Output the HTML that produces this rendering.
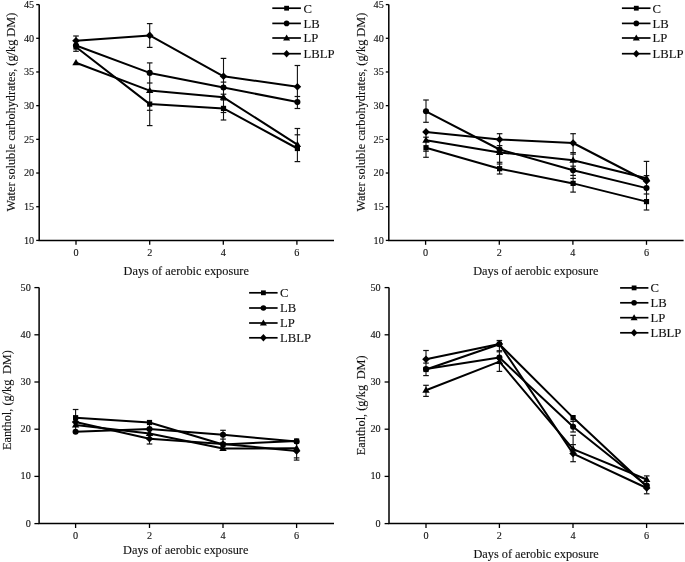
<!DOCTYPE html>
<html><head><meta charset="utf-8"><style>
html,body{margin:0;padding:0;background:#fff;}
body{width:685px;height:562px;overflow:hidden;}
svg{display:block;font-family:"Liberation Serif", serif;}
text{fill:#111;stroke:#111;stroke-width:0.12px;}
svg{filter:blur(0.35px);}
</style></head><body>
<svg width="685" height="562" viewBox="0 0 685 562">
<path d="M39.2 4.6V240.4H334" fill="none" stroke="#000" stroke-width="1.5"/>
<path d="M36.2 240.4H39.2" stroke="#000" stroke-width="1.3"/>
<text x="34.2" y="243.8" text-anchor="end" font-size="10.2">10</text>
<path d="M36.2 206.72H39.2" stroke="#000" stroke-width="1.3"/>
<text x="34.2" y="210.12" text-anchor="end" font-size="10.2">15</text>
<path d="M36.2 173.03H39.2" stroke="#000" stroke-width="1.3"/>
<text x="34.2" y="176.43" text-anchor="end" font-size="10.2">20</text>
<path d="M36.2 139.34H39.2" stroke="#000" stroke-width="1.3"/>
<text x="34.2" y="142.75" text-anchor="end" font-size="10.2">25</text>
<path d="M36.2 105.66H39.2" stroke="#000" stroke-width="1.3"/>
<text x="34.2" y="109.06" text-anchor="end" font-size="10.2">30</text>
<path d="M36.2 71.97H39.2" stroke="#000" stroke-width="1.3"/>
<text x="34.2" y="75.38" text-anchor="end" font-size="10.2">35</text>
<path d="M36.2 38.29H39.2" stroke="#000" stroke-width="1.3"/>
<text x="34.2" y="41.69" text-anchor="end" font-size="10.2">40</text>
<path d="M36.2 4.6H39.2" stroke="#000" stroke-width="1.3"/>
<text x="34.2" y="8" text-anchor="end" font-size="10.2">45</text>
<path d="M76 240.4V244.8" stroke="#000" stroke-width="1.3"/>
<text x="76" y="256.2" text-anchor="middle" font-size="10.2">0</text>
<path d="M149.7 240.4V244.8" stroke="#000" stroke-width="1.3"/>
<text x="149.7" y="256.2" text-anchor="middle" font-size="10.2">2</text>
<path d="M223.3 240.4V244.8" stroke="#000" stroke-width="1.3"/>
<text x="223.3" y="256.2" text-anchor="middle" font-size="10.2">4</text>
<path d="M296.9 240.4V244.8" stroke="#000" stroke-width="1.3"/>
<text x="296.9" y="256.2" text-anchor="middle" font-size="10.2">6</text>
<text x="123.6" y="275.2" font-size="12.3">Days of aerobic exposure</text>
<text transform="translate(15.2 211.5) rotate(-90)" font-size="12.3">Water soluble carbohydrates, (g/kg DM)</text>
<path d="M76 36V51.3" stroke="#111" stroke-width="1.1"/>
<path d="M73.2 36H78.8" stroke="#111" stroke-width="1.2"/>
<path d="M73.2 51.3H78.8" stroke="#111" stroke-width="1.2"/>
<path d="M149.7 23.6V47.4" stroke="#111" stroke-width="1.1"/>
<path d="M149.7 62.9V125.6" stroke="#111" stroke-width="1.1"/>
<path d="M146.9 23.6H152.5" stroke="#111" stroke-width="1.2"/>
<path d="M146.9 47.4H152.5" stroke="#111" stroke-width="1.2"/>
<path d="M146.9 62.9H152.5" stroke="#111" stroke-width="1.2"/>
<path d="M146.9 83H152.5" stroke="#111" stroke-width="1.2"/>
<path d="M146.9 110.3H152.5" stroke="#111" stroke-width="1.2"/>
<path d="M146.9 125.6H152.5" stroke="#111" stroke-width="1.2"/>
<path d="M223.5 58.4V120" stroke="#111" stroke-width="1.1"/>
<path d="M220.7 58.4H226.3" stroke="#111" stroke-width="1.2"/>
<path d="M220.7 82.1H226.3" stroke="#111" stroke-width="1.2"/>
<path d="M220.7 94.2H226.3" stroke="#111" stroke-width="1.2"/>
<path d="M220.7 100H226.3" stroke="#111" stroke-width="1.2"/>
<path d="M220.7 112.5H226.3" stroke="#111" stroke-width="1.2"/>
<path d="M220.7 120H226.3" stroke="#111" stroke-width="1.2"/>
<path d="M297.4 65.5V108.5" stroke="#111" stroke-width="1.1"/>
<path d="M297.4 128.5V162" stroke="#111" stroke-width="1.1"/>
<path d="M294.6 65.5H300.2" stroke="#111" stroke-width="1.2"/>
<path d="M294.6 96.5H300.2" stroke="#111" stroke-width="1.2"/>
<path d="M294.6 108.5H300.2" stroke="#111" stroke-width="1.2"/>
<path d="M294.6 128.5H300.2" stroke="#111" stroke-width="1.2"/>
<path d="M294.6 134.8H300.2" stroke="#111" stroke-width="1.2"/>
<path d="M294.6 161.6H300.2" stroke="#111" stroke-width="1.2"/>
<polyline points="76,47 149.7,104.1 223.5,108.4 297.4,148.5" fill="none" stroke="#000" stroke-width="2" stroke-linejoin="round" shape-rendering="auto"/>
<polyline points="76,45.5 149.7,72.9 223.5,87.5 297.4,102.1" fill="none" stroke="#000" stroke-width="2" stroke-linejoin="round" shape-rendering="auto"/>
<polyline points="76,62.8 149.7,90.6 223.5,97.3 297.4,144.6" fill="none" stroke="#000" stroke-width="2" stroke-linejoin="round" shape-rendering="auto"/>
<polyline points="76,40.8 149.7,35.4 223.5,76.3 297.4,86.8" fill="none" stroke="#000" stroke-width="2" stroke-linejoin="round" shape-rendering="auto"/>
<rect x="73.4" y="44.4" width="5.2" height="5.2"/>
<rect x="147.1" y="101.5" width="5.2" height="5.2"/>
<rect x="220.9" y="105.8" width="5.2" height="5.2"/>
<rect x="294.8" y="145.9" width="5.2" height="5.2"/>
<circle cx="76" cy="45.5" r="3.05"/>
<circle cx="149.7" cy="72.9" r="3.05"/>
<circle cx="223.5" cy="87.5" r="3.05"/>
<circle cx="297.4" cy="102.1" r="3.05"/>
<path d="M76 37L79.8 40.8L76 44.6L72.2 40.8Z"/>
<path d="M149.7 31.6L153.5 35.4L149.7 39.2L145.9 35.4Z"/>
<path d="M223.5 72.5L227.3 76.3L223.5 80.1L219.7 76.3Z"/>
<path d="M297.4 83L301.2 86.8L297.4 90.6L293.6 86.8Z"/>
<path d="M76 59.1L79.7 65.3L72.3 65.3Z"/>
<path d="M149.7 86.9L153.4 93.1L146 93.1Z"/>
<path d="M223.5 93.6L227.2 99.8L219.8 99.8Z"/>
<path d="M297.4 140.9L301.1 147.1L293.7 147.1Z"/>
<path d="M272.3 8.2H300.9" stroke="#000" stroke-width="1.7"/>
<rect x="284.2" y="5.8" width="4.8" height="4.8"/>
<text x="303.5" y="12.6" font-size="12.7">C</text>
<path d="M272.3 23.4H300.9" stroke="#000" stroke-width="1.7"/>
<circle cx="286.6" cy="23.4" r="2.8"/>
<text x="303.5" y="27.8" font-size="12.7">LB</text>
<path d="M272.3 38H300.9" stroke="#000" stroke-width="1.7"/>
<path d="M286.6 34.6L290.1 40.6L283.1 40.6Z"/>
<text x="303.5" y="42.4" font-size="12.7">LP</text>
<path d="M272.3 53.7H300.9" stroke="#000" stroke-width="1.7"/>
<path d="M286.6 50L290 53.7L286.6 57.4L283.2 53.7Z"/>
<text x="303.5" y="58.1" font-size="12.7">LBLP</text>
<path d="M388.8 4.6V240.4H683.6" fill="none" stroke="#000" stroke-width="1.5"/>
<path d="M385.8 240.4H388.8" stroke="#000" stroke-width="1.3"/>
<text x="383.8" y="243.8" text-anchor="end" font-size="10.2">10</text>
<path d="M385.8 206.72H388.8" stroke="#000" stroke-width="1.3"/>
<text x="383.8" y="210.12" text-anchor="end" font-size="10.2">15</text>
<path d="M385.8 173.03H388.8" stroke="#000" stroke-width="1.3"/>
<text x="383.8" y="176.43" text-anchor="end" font-size="10.2">20</text>
<path d="M385.8 139.34H388.8" stroke="#000" stroke-width="1.3"/>
<text x="383.8" y="142.75" text-anchor="end" font-size="10.2">25</text>
<path d="M385.8 105.66H388.8" stroke="#000" stroke-width="1.3"/>
<text x="383.8" y="109.06" text-anchor="end" font-size="10.2">30</text>
<path d="M385.8 71.97H388.8" stroke="#000" stroke-width="1.3"/>
<text x="383.8" y="75.38" text-anchor="end" font-size="10.2">35</text>
<path d="M385.8 38.29H388.8" stroke="#000" stroke-width="1.3"/>
<text x="383.8" y="41.69" text-anchor="end" font-size="10.2">40</text>
<path d="M385.8 4.6H388.8" stroke="#000" stroke-width="1.3"/>
<text x="383.8" y="8" text-anchor="end" font-size="10.2">45</text>
<path d="M425.6 240.4V244.8" stroke="#000" stroke-width="1.3"/>
<text x="425.6" y="256.2" text-anchor="middle" font-size="10.2">0</text>
<path d="M499.3 240.4V244.8" stroke="#000" stroke-width="1.3"/>
<text x="499.3" y="256.2" text-anchor="middle" font-size="10.2">2</text>
<path d="M572.9 240.4V244.8" stroke="#000" stroke-width="1.3"/>
<text x="572.9" y="256.2" text-anchor="middle" font-size="10.2">4</text>
<path d="M646.5 240.4V244.8" stroke="#000" stroke-width="1.3"/>
<text x="646.5" y="256.2" text-anchor="middle" font-size="10.2">6</text>
<text x="473.2" y="275.2" font-size="12.3">Days of aerobic exposure</text>
<text transform="translate(364.5 211.5) rotate(-90)" font-size="12.3">Water soluble carbohydrates, (g/kg DM)</text>
<path d="M426 100V122.3" stroke="#111" stroke-width="1.1"/>
<path d="M426 131.9V157.3" stroke="#111" stroke-width="1.1"/>
<path d="M423.2 100H428.8" stroke="#111" stroke-width="1.2"/>
<path d="M423.2 122.3H428.8" stroke="#111" stroke-width="1.2"/>
<path d="M423.2 137.2H428.8" stroke="#111" stroke-width="1.2"/>
<path d="M423.2 151.2H428.8" stroke="#111" stroke-width="1.2"/>
<path d="M423.2 157.3H428.8" stroke="#111" stroke-width="1.2"/>
<path d="M499.6 133.7V174" stroke="#111" stroke-width="1.1"/>
<path d="M496.8 133.7H502.4" stroke="#111" stroke-width="1.2"/>
<path d="M496.8 145.6H502.4" stroke="#111" stroke-width="1.2"/>
<path d="M496.8 162.3H502.4" stroke="#111" stroke-width="1.2"/>
<path d="M496.8 164H502.4" stroke="#111" stroke-width="1.2"/>
<path d="M496.8 174H502.4" stroke="#111" stroke-width="1.2"/>
<path d="M573.1 133.7V192.1" stroke="#111" stroke-width="1.1"/>
<path d="M570.3 133.7H575.9" stroke="#111" stroke-width="1.2"/>
<path d="M570.3 152.6H575.9" stroke="#111" stroke-width="1.2"/>
<path d="M570.3 154.1H575.9" stroke="#111" stroke-width="1.2"/>
<path d="M570.3 166.2H575.9" stroke="#111" stroke-width="1.2"/>
<path d="M570.3 175.4H575.9" stroke="#111" stroke-width="1.2"/>
<path d="M570.3 178.4H575.9" stroke="#111" stroke-width="1.2"/>
<path d="M570.3 192.1H575.9" stroke="#111" stroke-width="1.2"/>
<path d="M646.5 161.4V210" stroke="#111" stroke-width="1.1"/>
<path d="M643.7 161.4H649.3" stroke="#111" stroke-width="1.2"/>
<path d="M643.7 175.6H649.3" stroke="#111" stroke-width="1.2"/>
<path d="M643.7 194H649.3" stroke="#111" stroke-width="1.2"/>
<path d="M643.7 210H649.3" stroke="#111" stroke-width="1.2"/>
<polyline points="426,147.7 499.6,168.7 573.1,183.4 646.5,201.6" fill="none" stroke="#000" stroke-width="2" stroke-linejoin="round" shape-rendering="auto"/>
<polyline points="426,111.3 499.6,149.5 573.1,170.3 646.5,188.1" fill="none" stroke="#000" stroke-width="2" stroke-linejoin="round" shape-rendering="auto"/>
<polyline points="426,140.3 499.6,152.4 573.1,160.2 646.5,178.3" fill="none" stroke="#000" stroke-width="2" stroke-linejoin="round" shape-rendering="auto"/>
<polyline points="426,131.9 499.6,139.5 573.1,143 646.5,181" fill="none" stroke="#000" stroke-width="2" stroke-linejoin="round" shape-rendering="auto"/>
<rect x="423.4" y="145.1" width="5.2" height="5.2"/>
<rect x="497" y="166.1" width="5.2" height="5.2"/>
<rect x="570.5" y="180.8" width="5.2" height="5.2"/>
<rect x="643.9" y="199" width="5.2" height="5.2"/>
<circle cx="426" cy="111.3" r="3.05"/>
<circle cx="499.6" cy="149.5" r="3.05"/>
<circle cx="573.1" cy="170.3" r="3.05"/>
<circle cx="646.5" cy="188.1" r="3.05"/>
<path d="M426 128.1L429.8 131.9L426 135.7L422.2 131.9Z"/>
<path d="M499.6 135.7L503.4 139.5L499.6 143.3L495.8 139.5Z"/>
<path d="M573.1 139.2L576.9 143L573.1 146.8L569.3 143Z"/>
<path d="M646.5 177.2L650.3 181L646.5 184.8L642.7 181Z"/>
<path d="M426 136.6L429.7 142.8L422.3 142.8Z"/>
<path d="M499.6 148.7L503.3 154.9L495.9 154.9Z"/>
<path d="M573.1 156.5L576.8 162.7L569.4 162.7Z"/>
<path d="M646.5 174.6L650.2 180.8L642.8 180.8Z"/>
<path d="M621.9 8.2H650.5" stroke="#000" stroke-width="1.7"/>
<rect x="633.9" y="5.8" width="4.8" height="4.8"/>
<text x="652.6" y="12.6" font-size="12.7">C</text>
<path d="M621.9 23.4H650.5" stroke="#000" stroke-width="1.7"/>
<circle cx="636.3" cy="23.4" r="2.8"/>
<text x="652.6" y="27.8" font-size="12.7">LB</text>
<path d="M621.9 38H650.5" stroke="#000" stroke-width="1.7"/>
<path d="M636.3 34.6L639.8 40.6L632.8 40.6Z"/>
<text x="652.6" y="42.4" font-size="12.7">LP</text>
<path d="M621.9 53.7H650.5" stroke="#000" stroke-width="1.7"/>
<path d="M636.3 50L639.7 53.7L636.3 57.4L632.9 53.7Z"/>
<text x="652.6" y="58.1" font-size="12.7">LBLP</text>
<path d="M39.1 287.6V523.6H334" fill="none" stroke="#000" stroke-width="1.5"/>
<path d="M34.4 523.6H39.1" stroke="#000" stroke-width="1.3"/>
<text x="30.8" y="526.6" text-anchor="end" font-size="10.2">0</text>
<path d="M34.4 476.4H39.1" stroke="#000" stroke-width="1.3"/>
<text x="30.8" y="479.4" text-anchor="end" font-size="10.2">10</text>
<path d="M34.4 429.2H39.1" stroke="#000" stroke-width="1.3"/>
<text x="30.8" y="432.2" text-anchor="end" font-size="10.2">20</text>
<path d="M34.4 382H39.1" stroke="#000" stroke-width="1.3"/>
<text x="30.8" y="385" text-anchor="end" font-size="10.2">30</text>
<path d="M34.4 334.8H39.1" stroke="#000" stroke-width="1.3"/>
<text x="30.8" y="337.8" text-anchor="end" font-size="10.2">40</text>
<path d="M34.4 287.6H39.1" stroke="#000" stroke-width="1.3"/>
<text x="30.8" y="290.6" text-anchor="end" font-size="10.2">50</text>
<path d="M75.6 523.6V528" stroke="#000" stroke-width="1.3"/>
<text x="75.6" y="539.3" text-anchor="middle" font-size="10.2">0</text>
<path d="M149.5 523.6V528" stroke="#000" stroke-width="1.3"/>
<text x="149.5" y="539.3" text-anchor="middle" font-size="10.2">2</text>
<path d="M223 523.6V528" stroke="#000" stroke-width="1.3"/>
<text x="223" y="539.3" text-anchor="middle" font-size="10.2">4</text>
<path d="M296.6 523.6V528" stroke="#000" stroke-width="1.3"/>
<text x="296.6" y="539.3" text-anchor="middle" font-size="10.2">6</text>
<text x="123.1" y="554" font-size="12.3">Days of aerobic exposure</text>
<text transform="translate(10.8 450) rotate(-90)" font-size="12.3">Eanthol, (g/kg <tspan dx="2.5">DM)</tspan></text>
<path d="M75.6 409.5V430" stroke="#111" stroke-width="1.1"/>
<path d="M72.8 409.5H78.4" stroke="#111" stroke-width="1.2"/>
<path d="M149.5 425V444" stroke="#111" stroke-width="1.1"/>
<path d="M146.7 444H152.3" stroke="#111" stroke-width="1.2"/>
<path d="M223 430.3V449.5" stroke="#111" stroke-width="1.1"/>
<path d="M220.2 430.3H225.8" stroke="#111" stroke-width="1.2"/>
<path d="M220.2 439.1H225.8" stroke="#111" stroke-width="1.2"/>
<path d="M296.6 444V460" stroke="#111" stroke-width="1.1"/>
<path d="M293.8 457.9H299.4" stroke="#111" stroke-width="1.2"/>
<path d="M293.8 460.1H299.4" stroke="#111" stroke-width="1.2"/>
<polyline points="75.6,417.7 149.5,422.5 223,444.5 296.6,441" fill="none" stroke="#000" stroke-width="2" stroke-linejoin="round" shape-rendering="auto"/>
<polyline points="75.6,431.7 149.5,429.1 223,434.7 296.6,441.5" fill="none" stroke="#000" stroke-width="2" stroke-linejoin="round" shape-rendering="auto"/>
<polyline points="75.6,425 149.5,433.5 223,448.5 296.6,448.3" fill="none" stroke="#000" stroke-width="2" stroke-linejoin="round" shape-rendering="auto"/>
<polyline points="75.6,422.1 149.5,438.7 223,444 296.6,451" fill="none" stroke="#000" stroke-width="2" stroke-linejoin="round" shape-rendering="auto"/>
<rect x="73" y="415.1" width="5.2" height="5.2"/>
<rect x="146.9" y="419.9" width="5.2" height="5.2"/>
<rect x="220.4" y="441.9" width="5.2" height="5.2"/>
<rect x="294" y="438.4" width="5.2" height="5.2"/>
<circle cx="75.6" cy="431.7" r="3.05"/>
<circle cx="149.5" cy="429.1" r="3.05"/>
<circle cx="223" cy="434.7" r="3.05"/>
<circle cx="296.6" cy="441.5" r="3.05"/>
<path d="M75.6 418.3L79.4 422.1L75.6 425.9L71.8 422.1Z"/>
<path d="M149.5 434.9L153.3 438.7L149.5 442.5L145.7 438.7Z"/>
<path d="M223 440.2L226.8 444L223 447.8L219.2 444Z"/>
<path d="M296.6 447.2L300.4 451L296.6 454.8L292.8 451Z"/>
<path d="M75.6 421.3L79.3 427.5L71.9 427.5Z"/>
<path d="M149.5 429.8L153.2 436L145.8 436Z"/>
<path d="M223 444.8L226.7 451L219.3 451Z"/>
<path d="M296.6 444.6L300.3 450.8L292.9 450.8Z"/>
<path d="M249.1 292.8H277.6" stroke="#000" stroke-width="1.7"/>
<rect x="261" y="290.4" width="4.8" height="4.8"/>
<text x="280" y="297.2" font-size="12.7">C</text>
<path d="M249.1 308H277.6" stroke="#000" stroke-width="1.7"/>
<circle cx="263.4" cy="308" r="2.8"/>
<text x="280" y="312.4" font-size="12.7">LB</text>
<path d="M249.1 323H277.6" stroke="#000" stroke-width="1.7"/>
<path d="M263.4 319.6L266.9 325.6L259.9 325.6Z"/>
<text x="280" y="327.4" font-size="12.7">LP</text>
<path d="M249.1 337.8H277.6" stroke="#000" stroke-width="1.7"/>
<path d="M263.4 334.1L266.8 337.8L263.4 341.5L260 337.8Z"/>
<text x="280" y="342.2" font-size="12.7">LBLP</text>
<path d="M389 287.6V523.6H684" fill="none" stroke="#000" stroke-width="1.5"/>
<path d="M384.6 523.6H389" stroke="#000" stroke-width="1.3"/>
<text x="380.6" y="526.6" text-anchor="end" font-size="10.2">0</text>
<path d="M384.6 476.4H389" stroke="#000" stroke-width="1.3"/>
<text x="380.6" y="479.4" text-anchor="end" font-size="10.2">10</text>
<path d="M384.6 429.2H389" stroke="#000" stroke-width="1.3"/>
<text x="380.6" y="432.2" text-anchor="end" font-size="10.2">20</text>
<path d="M384.6 382H389" stroke="#000" stroke-width="1.3"/>
<text x="380.6" y="385" text-anchor="end" font-size="10.2">30</text>
<path d="M384.6 334.8H389" stroke="#000" stroke-width="1.3"/>
<text x="380.6" y="337.8" text-anchor="end" font-size="10.2">40</text>
<path d="M384.6 287.6H389" stroke="#000" stroke-width="1.3"/>
<text x="380.6" y="290.6" text-anchor="end" font-size="10.2">50</text>
<path d="M426 523.6V528" stroke="#000" stroke-width="1.3"/>
<text x="426" y="539.3" text-anchor="middle" font-size="10.2">0</text>
<path d="M499.4 523.6V528" stroke="#000" stroke-width="1.3"/>
<text x="499.4" y="539.3" text-anchor="middle" font-size="10.2">2</text>
<path d="M573 523.6V528" stroke="#000" stroke-width="1.3"/>
<text x="573" y="539.3" text-anchor="middle" font-size="10.2">4</text>
<path d="M646.6 523.6V528" stroke="#000" stroke-width="1.3"/>
<text x="646.6" y="539.3" text-anchor="middle" font-size="10.2">6</text>
<text x="473.4" y="558.1" font-size="12.3">Days of aerobic exposure</text>
<text transform="translate(365.3 455.2) rotate(-90)" font-size="12.3">Eanthol, (g/kg <tspan dx="2.5">DM)</tspan></text>
<path d="M426 350.5V375.6" stroke="#111" stroke-width="1.1"/>
<path d="M426 385.3V396.4" stroke="#111" stroke-width="1.1"/>
<path d="M423.2 350.5H428.8" stroke="#111" stroke-width="1.2"/>
<path d="M423.2 363.1H428.8" stroke="#111" stroke-width="1.2"/>
<path d="M423.2 375.6H428.8" stroke="#111" stroke-width="1.2"/>
<path d="M423.2 385.3H428.8" stroke="#111" stroke-width="1.2"/>
<path d="M423.2 396.4H428.8" stroke="#111" stroke-width="1.2"/>
<path d="M499.4 340.5V371.4" stroke="#111" stroke-width="1.1"/>
<path d="M496.6 340.5H502.2" stroke="#111" stroke-width="1.2"/>
<path d="M496.6 350.7H502.2" stroke="#111" stroke-width="1.2"/>
<path d="M496.6 351.8H502.2" stroke="#111" stroke-width="1.2"/>
<path d="M496.6 371.4H502.2" stroke="#111" stroke-width="1.2"/>
<path d="M573.1 417.8V432" stroke="#111" stroke-width="1.1"/>
<path d="M573.1 435.3V461.7" stroke="#111" stroke-width="1.1"/>
<path d="M570.3 421.4H575.9" stroke="#111" stroke-width="1.2"/>
<path d="M570.3 432H575.9" stroke="#111" stroke-width="1.2"/>
<path d="M570.3 435.3H575.9" stroke="#111" stroke-width="1.2"/>
<path d="M570.3 444.6H575.9" stroke="#111" stroke-width="1.2"/>
<path d="M570.3 461.7H575.9" stroke="#111" stroke-width="1.2"/>
<path d="M646.7 475.9V493.8" stroke="#111" stroke-width="1.1"/>
<path d="M643.9 475.9H649.5" stroke="#111" stroke-width="1.2"/>
<path d="M643.9 493.8H649.5" stroke="#111" stroke-width="1.2"/>
<polyline points="426,369.5 499.4,344.2 573.1,417.6 646.7,486.5" fill="none" stroke="#000" stroke-width="2" stroke-linejoin="round" shape-rendering="auto"/>
<polyline points="426,369 499.4,357.6 573.1,426.7 646.7,485.5" fill="none" stroke="#000" stroke-width="2" stroke-linejoin="round" shape-rendering="auto"/>
<polyline points="426,390.2 499.4,361.6 573.1,449.1 646.7,479.5" fill="none" stroke="#000" stroke-width="2" stroke-linejoin="round" shape-rendering="auto"/>
<polyline points="426,359.3 499.4,344 573.1,453.6 646.7,488" fill="none" stroke="#000" stroke-width="2" stroke-linejoin="round" shape-rendering="auto"/>
<rect x="423.4" y="366.9" width="5.2" height="5.2"/>
<rect x="496.8" y="341.6" width="5.2" height="5.2"/>
<rect x="570.5" y="415" width="5.2" height="5.2"/>
<rect x="644.1" y="483.9" width="5.2" height="5.2"/>
<circle cx="426" cy="369" r="3.05"/>
<circle cx="499.4" cy="357.6" r="3.05"/>
<circle cx="573.1" cy="426.7" r="3.05"/>
<circle cx="646.7" cy="485.5" r="3.05"/>
<path d="M426 355.5L429.8 359.3L426 363.1L422.2 359.3Z"/>
<path d="M499.4 340.2L503.2 344L499.4 347.8L495.6 344Z"/>
<path d="M573.1 449.8L576.9 453.6L573.1 457.4L569.3 453.6Z"/>
<path d="M646.7 484.2L650.5 488L646.7 491.8L642.9 488Z"/>
<path d="M426 386.5L429.7 392.7L422.3 392.7Z"/>
<path d="M499.4 357.9L503.1 364.1L495.7 364.1Z"/>
<path d="M573.1 445.4L576.8 451.6L569.4 451.6Z"/>
<path d="M646.7 475.8L650.4 482L643 482Z"/>
<path d="M620.1 287.9H648.4" stroke="#000" stroke-width="1.7"/>
<rect x="631.7" y="285.5" width="4.8" height="4.8"/>
<text x="650.4" y="292.3" font-size="12.7">C</text>
<path d="M620.1 302.8H648.4" stroke="#000" stroke-width="1.7"/>
<circle cx="634.1" cy="302.8" r="2.8"/>
<text x="650.4" y="307.2" font-size="12.7">LB</text>
<path d="M620.1 317.7H648.4" stroke="#000" stroke-width="1.7"/>
<path d="M634.1 314.3L637.6 320.3L630.6 320.3Z"/>
<text x="650.4" y="322.1" font-size="12.7">LP</text>
<path d="M620.1 332.8H648.4" stroke="#000" stroke-width="1.7"/>
<path d="M634.1 329.1L637.5 332.8L634.1 336.5L630.7 332.8Z"/>
<text x="650.4" y="337.2" font-size="12.7">LBLP</text>
</svg>
</body></html>
